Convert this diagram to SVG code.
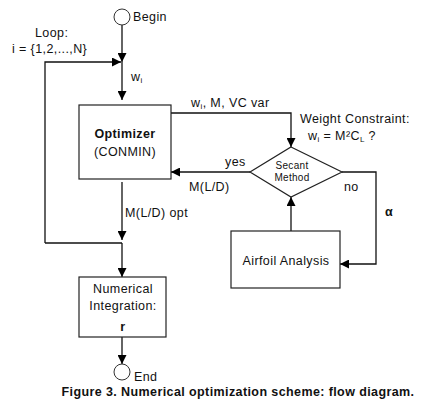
<svg xmlns="http://www.w3.org/2000/svg" width="439" height="409" viewBox="0 0 439 409">
<defs>
<marker id="ah" viewBox="0 0 10 10" refX="10" refY="5" markerWidth="9" markerHeight="9" markerUnits="userSpaceOnUse" orient="auto"><path d="M0,0 L10,5 L0,10 z" fill="#000"/></marker>
</defs>
<style>
.t{font-family:"Liberation Sans",Arial,sans-serif;font-size:12.5px;letter-spacing:0.4px;fill:#111}
.b{font-weight:bold}
.s{font-size:10px;letter-spacing:0.3px}
.box{fill:#fff;stroke:#222;stroke-width:1.2}
.ln{fill:none;stroke:#111;stroke-width:1.3}
.sub{font-size:8px}
</style>
<rect width="439" height="409" fill="#fff"/>
<g id="connectors">
<path class="ln" d="M122,25 V62" marker-end="url(#ah)"/>
<path class="ln" d="M45,243 V62 H121" marker-end="url(#ah)"/>
<path class="ln" d="M122,62 V100" marker-end="url(#ah)"/>
<path class="ln" d="M171,113 H291 V147" marker-end="url(#ah)"/>
<path class="ln" d="M250,172 H171" marker-end="url(#ah)"/>
<path class="ln" d="M342,172 H376 V264 H340" marker-end="url(#ah)"/>
<path class="ln" d="M291,231 V197" marker-end="url(#ah)"/>
<path class="ln" d="M122,182 V240" marker-end="url(#ah)"/>
<path class="ln" d="M45,243 H122"/>
<path class="ln" d="M122,243 V277" marker-end="url(#ah)"/>
<path class="ln" d="M122,337 V364" marker-end="url(#ah)"/>
<text class="t" x="131" y="81">w<tspan class="sub" dy="2">i</tspan></text>
<text class="t" x="191" y="107">w<tspan class="sub" dy="2">i</tspan><tspan dy="-2">, M, VC var</tspan></text>
<text class="t" x="225" y="166">yes</text>
<text class="t" x="189" y="191">M(L/D)</text>
<text class="t" x="344" y="191">no</text>
<text class="t b" x="385" y="216" font-size="14">α</text>
<text class="t" x="125" y="217">M(L/D) opt</text>
<text class="t" x="35" y="37">Loop:</text>
<text class="t" x="12" y="53">i = {1,2,...,N}</text>
<text class="t" x="300" y="123">Weight Constraint:</text>
<text class="t" x="308" y="140">w<tspan class="sub" dy="2">i</tspan><tspan dy="-2"> =  M²C</tspan><tspan class="sub" dy="2">L</tspan><tspan dy="-2"> ?</tspan></text>
</g>
<g id="begin">
<circle cx="122" cy="17" r="8" fill="#fff" stroke="#333" stroke-width="1"/>
<text class="t" x="133" y="21">Begin</text>
</g>
<g id="optimizer">
<rect class="box" x="79" y="105" width="92" height="74"/>
<text class="t b" x="125" y="138" text-anchor="middle" font-size="13.5">Optimizer</text>
<text class="t" x="125" y="156" text-anchor="middle" font-size="13.5">(CONMIN)</text>
</g>
<g id="secant">
<polygon class="box" points="291,147 342,172 291,197 250,172"/>
<text class="t s" x="292" y="169" text-anchor="middle">Secant</text>
<text class="t s" x="292" y="181" text-anchor="middle">Method</text>
</g>
<g id="airfoil">
<rect class="box" x="231" y="231" width="109" height="57"/>
<text class="t" x="286" y="265" text-anchor="middle">Airfoil Analysis</text>
</g>
<g id="integration">
<rect class="box" x="79" y="277" width="87" height="60"/>
<text class="t" x="123" y="293" text-anchor="middle">Numerical</text>
<text class="t" x="123" y="310" text-anchor="middle">Integration:</text>
<text class="t b" x="123" y="331" text-anchor="middle" font-size="15">r</text>
</g>
<g id="end">
<circle cx="122" cy="372" r="8" fill="#fff" stroke="#333" stroke-width="1"/>
<text class="t" x="134" y="381">End</text>
</g>
<text class="t b" x="238" y="396" text-anchor="middle" font-size="13" letter-spacing="0.9">Figure 3. Numerical optimization scheme: flow diagram.</text>
</svg>
